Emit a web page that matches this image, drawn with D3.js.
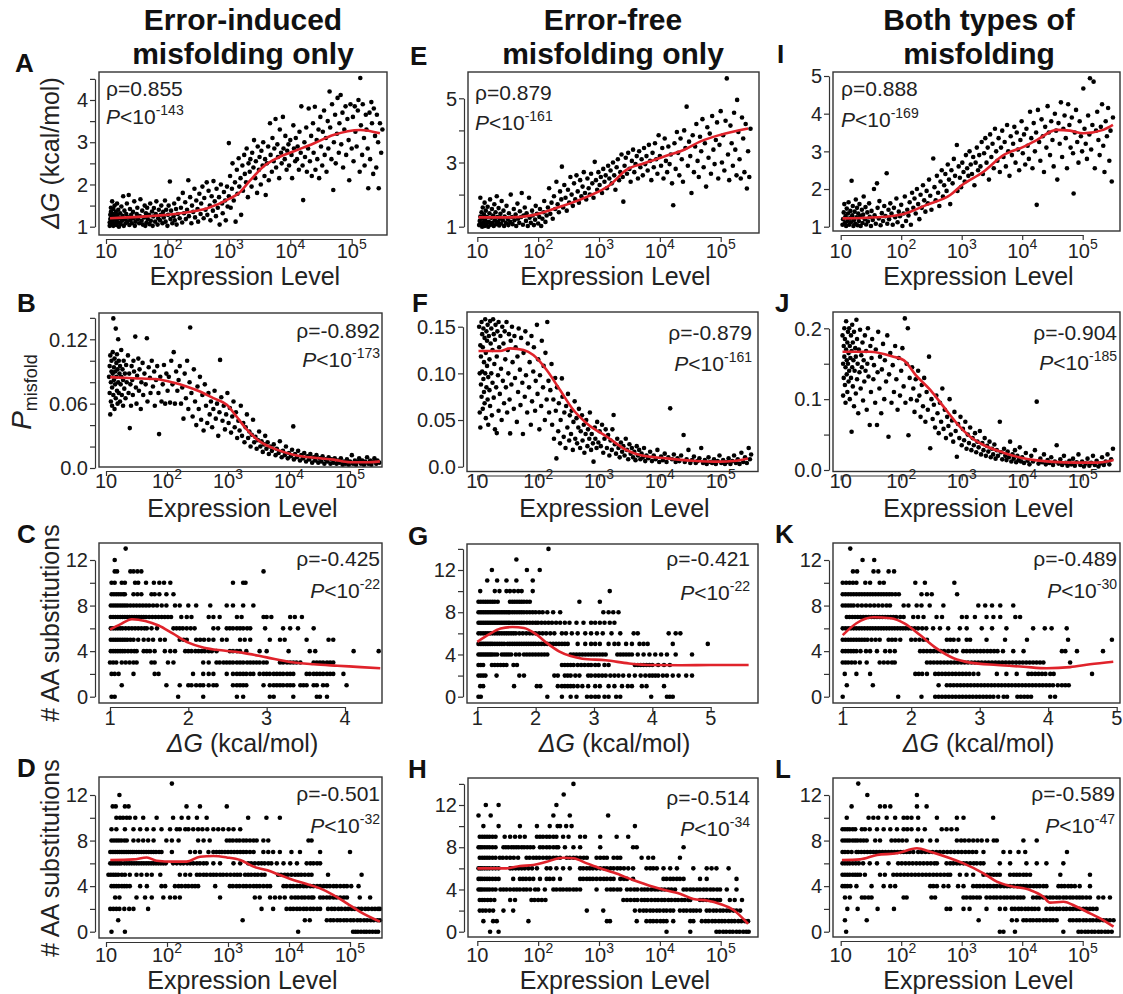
<!DOCTYPE html>
<html>
<head>
<meta charset="utf-8">
<script src="https://cdn.jsdelivr.net/npm/d3@7"></script>
<style>
  body { margin: 0; background: #fff; }
  svg { display: block; font-family: "Liberation Sans", Arial, Helvetica, sans-serif; }
</style>
</head>
<body>
<div id="chart"></div>
<script>
// ---- labels
var colTitles = [['Error-induced', 'misfolding only'], ['Error-free', 'misfolding only'], ['Both types of', 'misfolding']]
var letters = ['A', 'B', 'C', 'D', 'E', 'F', 'G', 'H', 'I', 'J', 'K', 'L']
var rhoVals = ['0.855', '-0.892', '-0.425', '-0.501', '0.879', '-0.879', '-0.421', '-0.514', '0.888', '-0.904', '-0.489', '-0.589']
var pExps = ['-143', '-173', '-22', '-32', '-161', '-161', '-22', '-34', '-169', '-185', '-30', '-47']

// ---- tick values / labels
var exprTicks = [1, 2, 3, 4, 5]            // log10 expression
var ticksA = [1, 1.5, 2, 2.5, 3, 3.5, 4, 4.5], labA = [1, 2, 3, 4]
var ticksE = [1, 2, 3, 4, 5], labE = [1, 3, 5]
var ticksI = [1, 2, 3, 4, 5], labI = [1, 2, 3, 4, 5]
var ticksB = [0, 0.02, 0.04, 0.06, 0.08, 0.1, 0.12, 0.14], labB = [[0, '0.0'], [0.06, '0.06'], [0.12, '0.12']]
var ticksF = [0, 0.05, 0.1, 0.15], labF = [[0, '0.0'], [0.05, '0.05'], [0.1, '0.10'], [0.15, '0.15']]
var ticksJ = [0, 0.05, 0.1, 0.15, 0.2], labJ = [[0, '0.0'], [0.1, '0.1'], [0.2, '0.2']]
var ticksAA12 = [0, 2, 4, 6, 8, 10, 12], ticksAA14 = [0, 2, 4, 6, 8, 10, 12, 14], labAA = [0, 4, 8, 12]
var dgTicksC = [1, 2, 3, 4], dgTicksG = [1, 2, 3, 4, 5], dgTicksK = [1, 2, 3, 4, 5]

// ---- row 1: dG vs log10 expression (x, y pairs)
var ptsA = [1.06,1.02, 1.06,1.1, 1.07,1.18, 1.07,1.28, 1.08,1.35, 1.08,1.45, 1.09,1.05, 1.09,1.22, 1.1,1.6, 1.1,1.12, 1.11,1.3, 1.12,1.02, 1.12,1.42, 1.13,1.18, 1.14,1.08, 1.14,1.5, 1.15,1.25, 1.16,1.35, 1.17,1.04, 1.17,1.15, 1.18,1.55, 1.19,1.28, 1.2,1.1, 1.2,1.4, 1.21,1.0, 1.22,1.2, 1.23,1.32, 1.24,1.06, 1.25,1.48, 1.26,1.14, 1.27,1.26, 1.28,1.72, 1.29,1.02, 1.3,1.38, 1.31,1.18, 1.32,1.08, 1.33,1.3, 1.34,1.55, 1.35,1.12, 1.36,1.22, 1.37,1.75, 1.38,1.04, 1.39,1.42, 1.4,1.16, 1.41,1.28, 1.42,1.08, 1.44,1.35, 1.45,1.2, 1.46,1.6, 1.47,1.02, 1.48,1.12, 1.5,1.3, 1.51,1.45, 1.52,1.18, 1.54,1.08, 1.55,1.25, 1.56,1.65, 1.58,1.14, 1.59,1.38, 1.6,1.05,
  1.62,1.22, 1.63,1.5, 1.64,1.02, 1.65,1.32, 1.66,1.1, 1.67,1.45, 1.68,1.18, 1.7,1.28, 1.71,1.06, 1.72,1.55, 1.73,1.14, 1.75,1.36, 1.76,1.02, 1.77,1.24, 1.78,1.44, 1.8,1.12, 1.81,1.3, 1.82,1.6, 1.84,1.05, 1.85,1.2, 1.86,1.4, 1.88,1.15, 1.89,1.28, 1.9,1.5, 1.92,1.08, 1.93,1.35, 1.94,1.22, 1.96,1.62, 1.97,1.12, 1.98,1.4, 2.0,1.02, 2.01,1.28, 2.02,1.5, 2.04,2.07, 2.05,1.18, 2.06,1.38, 2.08,1.08, 2.1,1.25, 2.11,1.55, 2.12,1.15, 2.14,1.42, 2.15,1.05, 2.17,1.3, 2.18,1.66, 2.2,1.2,
  2.22,1.45, 2.24,1.1, 2.25,1.8, 2.27,1.32, 2.29,1.58, 2.3,1.18, 2.32,1.4, 2.34,2.1, 2.35,1.25, 2.37,1.7, 2.39,1.08, 2.4,1.5, 2.42,1.35, 2.44,1.9, 2.45,1.22, 2.47,1.62, 2.49,1.42, 2.5,1.12, 2.52,1.78, 2.54,1.3, 2.55,1.55, 2.57,1.95, 2.59,1.2, 2.6,1.68, 2.62,1.4, 2.64,2.05, 2.65,1.28, 2.67,1.85, 2.69,1.5, 2.7,1.15, 2.72,1.72, 2.74,1.38, 2.75,2.08, 2.77,1.6, 2.79,1.25, 2.8,1.9, 2.82,1.45, 2.84,1.7, 2.85,1.05, 2.87,2.0, 2.89,1.55, 2.9,1.32, 2.92,1.82, 2.94,1.62, 2.95,1.15, 2.97,1.95, 2.98,1.48, 3.0,2.98, 3.0,1.72,
  3.02,2.2, 3.03,1.45, 3.05,1.9, 3.06,2.5, 3.08,1.62, 3.1,2.05, 3.11,1.12, 3.13,2.35, 3.14,1.78, 3.16,2.62, 3.17,1.95, 3.19,2.15, 3.2,1.28, 3.22,2.45, 3.23,1.85, 3.25,2.7, 3.26,2.25, 3.28,2.05, 3.29,2.85, 3.31,1.7, 3.32,2.5, 3.34,2.3, 3.35,2.6, 3.37,1.95, 3.38,2.75, 3.4,2.4, 3.41,3.05, 3.43,2.15, 3.44,2.55, 3.46,1.8, 3.47,2.9, 3.49,2.35, 3.5,2.65, 3.52,2.0, 3.53,2.8, 3.55,2.45, 3.56,3.0, 3.58,2.2, 3.59,2.6, 3.6,1.75,
  3.62,2.5, 3.64,2.9, 3.65,2.1, 3.67,3.45, 3.68,2.7, 3.7,2.3, 3.71,3.1, 3.73,2.55, 3.74,2.85, 3.76,3.55, 3.77,2.4, 3.79,2.95, 3.8,2.65, 3.82,2.15, 3.83,3.3, 3.85,2.75, 3.86,2.5, 3.88,3.6, 3.89,2.85, 3.91,2.6, 3.92,3.15, 3.94,2.35, 3.95,2.8, 3.97,2.95, 3.98,2.45, 4.0,3.05, 4.02,2.7, 4.03,2.15, 4.05,3.4, 4.06,2.85, 4.08,2.55, 4.09,3.1, 4.11,2.6, 4.12,2.9, 4.14,2.35, 4.15,3.25, 4.17,2.75, 4.18,3.85, 4.2,2.45, 4.21,1.63, 4.23,3.0, 4.24,2.65, 4.26,3.35, 4.27,2.3, 4.29,2.85, 4.3,3.8,
  4.32,2.55, 4.34,3.15, 4.35,2.2, 4.37,3.45, 4.38,2.75, 4.4,3.84, 4.41,2.35, 4.43,3.05, 4.44,2.6, 4.46,3.3, 4.47,2.15, 4.49,3.6, 4.5,2.9, 4.52,2.45, 4.53,3.25, 4.55,3.75, 4.56,2.7, 4.58,3.1, 4.59,2.3, 4.61,3.5, 4.62,2.85, 4.64,4.2, 4.65,3.35, 4.67,2.6, 4.68,3.9, 4.7,1.87, 4.71,3.0, 4.73,3.65, 4.74,2.5, 4.76,3.2, 4.77,4.05, 4.79,2.75, 4.8,3.45, 4.82,4.12, 4.83,2.95, 4.85,3.7, 4.86,2.4, 4.88,3.3, 4.9,3.85, 4.91,2.7, 4.93,3.55, 4.95,3.05, 4.96,2.1, 4.98,3.9, 5.0,2.85,
  5.02,3.6, 5.03,2.55, 5.05,3.85, 5.06,3.25, 5.08,2.9, 5.1,3.75, 5.11,4.0, 5.13,2.3, 5.14,4.52, 5.15,3.4, 5.17,2.7, 5.18,3.9, 5.2,3.1, 5.21,2.45, 5.23,3.65, 5.24,3.3, 5.26,2.85, 5.27,1.91, 5.29,3.7, 5.3,2.6, 5.32,3.95, 5.33,3.45, 5.35,2.25, 5.36,3.8, 5.38,3.15, 5.4,2.4, 5.41,3.65, 5.43,3.0, 5.44,1.91, 5.46,3.45, 5.48,2.75, 5.5,3.3]
var fitA = [1.065,1.2, 1.72,1.25, 2.21,1.32, 2.64,1.43, 3.02,1.67, 3.16,1.79, 3.35,2.1, 3.56,2.42, 3.78,2.62, 4.05,2.78, 4.38,2.97, 4.7,3.17, 5.14,3.29, 5.46,3.21]

var ptsE = [1.03,1.05, 1.04,1.18, 1.05,1.32, 1.05,1.9, 1.06,1.1, 1.07,1.45, 1.08,1.0, 1.08,1.25, 1.09,1.6, 1.1,1.12, 1.11,1.38, 1.12,1.02, 1.12,1.75, 1.13,1.2, 1.14,1.5, 1.15,1.08, 1.16,1.3, 1.17,1.62, 1.18,1.0, 1.19,1.15, 1.2,1.42, 1.21,1.85, 1.22,1.06, 1.23,1.28, 1.24,1.55, 1.25,1.12, 1.26,1.35, 1.27,1.02, 1.28,1.7, 1.29,1.2, 1.3,1.45, 1.31,1.08, 1.32,1.95, 1.33,1.3, 1.34,1.15, 1.35,1.58, 1.36,1.04, 1.37,1.25, 1.38,1.4, 1.39,1.1, 1.4,1.8, 1.42,1.2, 1.43,1.5, 1.44,1.02, 1.45,1.32, 1.47,1.12, 1.48,1.65, 1.5,1.24, 1.51,1.05, 1.52,1.42, 1.54,1.15, 1.55,2.0, 1.57,1.3, 1.58,1.08, 1.6,1.55, 1.61,1.2, 1.63,1.38, 1.64,1.02, 1.66,1.72, 1.67,1.25, 1.69,1.12, 1.7,1.48, 1.72,1.3, 1.73,2.05, 1.75,1.06, 1.76,1.35, 1.78,1.6, 1.8,1.18, 1.81,1.42, 1.83,1.02, 1.85,1.9, 1.86,1.28, 1.88,1.12, 1.9,1.5, 1.91,1.35, 1.93,1.05, 1.95,1.22, 1.96,1.65, 1.98,1.4, 2.0,1.1, 2.02,1.3, 2.03,1.55, 2.05,1.02, 2.07,1.25, 2.09,1.45, 2.1,1.8, 2.12,1.15, 2.14,1.35,
  2.16,1.6, 2.18,2.2, 2.2,1.4, 2.22,1.75, 2.24,1.25, 2.26,1.95, 2.28,1.55, 2.3,2.4, 2.32,1.7, 2.34,1.45, 2.36,2.1, 2.38,1.85, 2.39,2.87, 2.41,1.6, 2.43,2.3, 2.45,1.9, 2.47,1.5, 2.49,2.15, 2.51,1.75, 2.53,2.55, 2.55,2.0, 2.57,1.65, 2.59,2.35, 2.61,1.85, 2.63,2.6, 2.65,2.1, 2.67,1.75, 2.69,2.45, 2.71,1.95, 2.73,2.25, 2.75,2.7, 2.77,2.05, 2.79,1.85, 2.81,2.5, 2.83,2.2, 2.85,2.0, 2.87,2.65, 2.89,2.35, 2.91,1.9, 2.93,3.02, 2.95,2.45, 2.97,2.15, 2.99,2.7, 3.01,2.3, 3.03,2.55, 3.05,2.05, 3.07,2.8, 3.09,2.4, 3.11,2.6, 3.13,2.2, 3.15,2.9, 3.17,2.5, 3.19,2.75,
  3.21,2.35, 3.23,3.0, 3.25,2.6, 3.27,2.15, 3.29,2.85, 3.31,3.1, 3.33,2.45, 3.35,2.7, 3.37,3.25, 3.39,2.55, 3.4,1.78, 3.42,2.9, 3.44,3.15, 3.46,2.65, 3.48,3.3, 3.5,2.8, 3.52,2.4, 3.54,3.05, 3.56,3.4, 3.58,2.7, 3.6,2.95, 3.62,3.2, 3.64,2.5, 3.66,3.35, 3.68,2.85, 3.7,3.1, 3.72,2.6, 3.74,3.45, 3.76,2.95, 3.78,3.2, 3.8,2.75, 3.82,3.55, 3.84,3.05, 3.86,2.45, 3.88,3.3, 3.9,2.85, 3.92,3.6, 3.94,3.1, 3.96,2.65, 3.98,3.85, 4.0,3.2, 4.02,2.9, 4.04,3.45, 4.06,2.5, 4.08,3.75, 4.1,3.05, 4.12,2.7, 4.14,3.5, 4.16,2.95, 4.18,3.25, 4.2,2.35, 4.22,1.67,
  4.24,3.6, 4.26,2.8, 4.28,3.95, 4.3,3.3, 4.32,2.6, 4.34,3.75, 4.36,3.1, 4.38,2.4, 4.4,4.0, 4.42,3.45, 4.44,4.74, 4.46,2.9, 4.48,3.65, 4.5,3.2, 4.52,2.05, 4.54,3.85, 4.56,2.7, 4.58,3.5, 4.6,4.2, 4.62,3.05, 4.64,2.55, 4.66,3.8, 4.68,3.35, 4.7,4.35, 4.72,2.85, 4.74,3.6, 4.76,2.25, 4.78,4.1, 4.8,3.15, 4.82,3.9, 4.84,2.65, 4.86,4.45, 4.88,3.4, 4.9,2.95, 4.92,3.7, 4.94,4.25, 4.96,2.5, 4.98,3.55, 5.0,4.6, 5.02,3.0, 5.04,3.85, 5.06,2.75, 5.08,4.3, 5.1,5.62, 5.12,3.25, 5.14,2.45, 5.16,4.15, 5.18,3.6, 5.2,2.9, 5.22,4.55, 5.24,3.4, 5.26,2.6, 5.27,4.95, 5.29,3.95, 5.31,3.1, 5.33,2.5, 5.35,4.4, 5.37,3.75, 5.39,2.7, 5.41,4.2, 5.43,2.19, 5.45,3.35, 5.47,2.55, 5.49,4.05]
var fitE = [1.02,1.29, 1.54,1.29, 1.92,1.36, 2.36,1.62, 2.8,1.93, 3.18,2.3, 3.45,2.77, 3.73,2.97, 4.06,3.18, 4.39,3.39, 4.66,3.65, 4.99,3.86, 5.45,4.06]

var ptsI = [1.03,1.05, 1.04,1.2, 1.05,1.38, 1.06,1.6, 1.07,1.1, 1.08,1.28, 1.09,1.02, 1.1,1.48, 1.11,1.15, 1.12,1.35, 1.13,1.65, 1.14,1.05, 1.15,1.22, 1.16,1.42, 1.17,1.12, 1.18,2.22, 1.19,1.3, 1.2,1.55, 1.21,1.02, 1.22,1.18, 1.23,1.4, 1.24,1.08, 1.25,1.72, 1.26,1.25, 1.27,1.5, 1.28,1.04, 1.29,1.35, 1.3,1.15, 1.31,1.6, 1.32,1.28, 1.33,1.02, 1.35,1.45, 1.36,1.1, 1.37,1.32, 1.38,1.8, 1.4,1.2, 1.41,1.52, 1.42,1.06, 1.44,1.38, 1.45,1.14, 1.47,1.62, 1.48,1.26, 1.5,1.02, 1.51,1.42, 1.53,1.18, 1.55,2.0, 1.56,1.3, 1.58,1.08, 1.6,2.15, 1.61,1.5, 1.63,1.22, 1.64,1.68, 1.66,1.04, 1.68,1.36, 1.7,1.15, 1.72,1.55, 1.74,1.28, 1.76,2.42, 1.77,1.08, 1.79,1.45, 1.8,1.2, 1.82,1.62, 1.84,1.35, 1.86,1.05, 1.88,1.5, 1.9,1.25, 1.92,1.75, 1.94,1.12, 1.96,1.4, 1.98,1.28, 2.0,1.58, 2.02,1.02, 2.04,1.35, 2.06,1.8, 2.08,1.15, 2.1,1.45, 2.12,1.3, 2.14,1.65, 2.16,1.05, 2.18,1.9,
  2.2,1.5, 2.22,1.75, 2.24,1.35, 2.26,2.0, 2.28,1.6, 2.3,1.2, 2.32,1.85, 2.34,1.5, 2.36,2.1, 2.38,1.7, 2.4,1.4, 2.42,1.95, 2.44,1.62, 2.46,2.25, 2.48,1.82, 2.5,1.45, 2.53,2.81, 2.55,2.05, 2.57,1.7, 2.59,2.35, 2.61,1.9, 2.63,1.55, 2.65,2.2, 2.67,2.5, 2.69,1.8, 2.71,2.1, 2.73,2.4, 2.75,1.95, 2.77,2.65, 2.79,2.25, 2.81,1.6, 2.83,2.5, 2.85,2.15, 2.87,2.8, 2.89,2.35, 2.92,3.17, 2.93,1.95, 2.95,2.6, 2.97,2.3, 2.99,2.05, 3.01,2.7, 3.03,2.45, 3.05,2.2, 3.07,2.9, 3.09,2.55, 3.11,2.35, 3.13,3.0, 3.15,2.65, 3.17,2.4, 3.19,2.85, 3.21,2.1, 3.23,2.7, 3.25,3.1, 3.27,2.5, 3.29,2.9,
  3.31,2.6, 3.33,3.25, 3.35,2.4, 3.37,2.95, 3.39,3.35, 3.41,2.7, 3.43,3.1, 3.45,2.25, 3.47,3.45, 3.49,2.85, 3.51,3.2, 3.53,2.55, 3.55,3.6, 3.57,3.0, 3.59,2.75, 3.61,3.35, 3.63,2.45, 3.65,3.1, 3.67,3.55, 3.69,2.85, 3.71,3.25, 3.73,2.6, 3.75,3.7, 3.77,3.0, 3.79,2.35, 3.81,3.4, 3.83,2.9, 3.85,3.2, 3.87,3.65, 3.89,2.7, 3.91,3.5, 3.93,3.05, 3.95,2.5, 3.97,3.3, 3.99,3.8, 4.01,2.95, 4.03,3.45, 4.05,2.65, 4.07,3.6, 4.09,3.15, 4.11,2.8, 4.13,4.05, 4.15,3.35, 4.17,2.55, 4.19,3.75, 4.21,3.0, 4.23,3.5, 4.24,1.58, 4.26,4.1, 4.28,3.25, 4.3,2.75, 4.32,3.85, 4.34,3.4, 4.36,2.45, 4.38,3.65, 4.4,3.1,
  4.42,4.2, 4.44,3.5, 4.46,2.9, 4.48,3.8, 4.5,3.3, 4.52,2.6, 4.54,4.0, 4.56,3.55, 4.58,2.25, 4.6,3.75, 4.62,3.2, 4.64,4.3, 4.66,2.85, 4.68,3.6, 4.7,3.95, 4.72,3.35, 4.74,2.55, 4.76,4.25, 4.78,3.7, 4.8,3.1, 4.82,3.9, 4.84,2.95, 4.85,1.88, 4.87,3.5, 4.89,4.1, 4.91,3.25, 4.93,2.7, 4.95,3.8, 4.97,3.4, 4.99,3.0, 5.01,4.67, 5.03,3.6, 5.05,3.2, 5.07,2.8, 5.09,3.95, 5.11,3.45, 5.12,4.94, 5.14,3.05, 5.16,3.7, 5.18,4.85, 5.2,2.55, 5.22,3.55, 5.24,4.05, 5.26,3.3, 5.28,2.9, 5.3,3.65, 5.32,4.25, 5.34,3.15, 5.36,2.45, 5.38,3.8, 5.4,3.4, 5.42,4.15, 5.44,2.75, 5.46,3.55, 5.48,2.2, 5.5,3.9]
var fitI = [1.03,1.22, 1.6,1.25, 2.04,1.34, 2.42,1.58, 2.81,1.84, 3.0,2.1, 3.36,2.46, 3.69,2.9, 4.02,3.12, 4.24,3.3, 4.57,3.57, 4.79,3.55, 5.01,3.48, 5.34,3.57, 5.5,3.7]

// ---- row 2: P misfold vs log10 expression
var ptsB = [1.05,0.085, 1.06,0.095, 1.06,0.07, 1.07,0.05, 1.07,0.105, 1.08,0.08, 1.08,0.062, 1.09,0.09, 1.09,0.1, 1.1,0.075, 1.1,0.058, 1.11,0.088, 1.11,0.108, 1.12,0.1395, 1.12,0.068, 1.13,0.094, 1.13,0.082, 1.14,0.102, 1.14,0.055, 1.15,0.078, 1.15,0.09, 1.16,0.13, 1.16,0.065, 1.17,0.098, 1.17,0.085, 1.18,0.072, 1.18,0.106, 1.19,0.06, 1.19,0.092, 1.2,0.08, 1.2,0.12, 1.21,0.07, 1.21,0.1, 1.22,0.088, 1.23,0.062, 1.23,0.095, 1.24,0.078, 1.25,0.11, 1.25,0.085, 1.26,0.068, 1.27,0.092, 1.28,0.058, 1.28,0.082, 1.29,0.1, 1.3,0.074, 1.31,0.088, 1.32,0.065, 1.33,0.096, 1.34,0.08,
  1.36,0.105, 1.37,0.07, 1.38,0.088, 1.39,0.0372, 1.4,0.078, 1.41,0.058, 1.42,0.095, 1.43,0.082, 1.44,0.068, 1.45,0.1, 1.46,0.09, 1.48,0.1225, 1.49,0.075, 1.5,0.06, 1.51,0.086, 1.53,0.102, 1.54,0.072, 1.55,0.092, 1.57,0.055, 1.58,0.08, 1.6,0.098, 1.61,0.068, 1.63,0.088, 1.65,0.078, 1.67,0.121, 1.68,0.062, 1.7,0.094, 1.72,0.084, 1.73,0.07, 1.75,0.1, 1.77,0.076, 1.79,0.09, 1.8,0.058, 1.82,0.082, 1.84,0.095, 1.86,0.07, 1.87,0.0316, 1.89,0.085, 1.91,0.062, 1.93,0.078, 1.95,0.096, 1.97,0.06, 1.99,0.088, 2.01,0.072, 2.03,0.085, 2.05,0.061, 2.07,0.1, 2.09,0.078, 2.11,0.108, 2.13,0.06, 2.15,0.09, 2.17,0.072, 2.19,0.082,
  2.21,0.095, 2.23,0.06, 2.25,0.075, 2.27,0.046, 2.29,0.088, 2.31,0.065, 2.33,0.1, 2.35,0.055, 2.37,0.08, 2.38,0.131, 2.4,0.07, 2.42,0.048, 2.44,0.092, 2.46,0.062, 2.48,0.04, 2.5,0.076, 2.52,0.055, 2.54,0.085, 2.56,0.045, 2.58,0.068, 2.6,0.035, 2.62,0.078, 2.64,0.058, 2.66,0.042, 2.68,0.07, 2.7,0.05, 2.72,0.062, 2.74,0.038, 2.76,0.055, 2.78,0.072, 2.8,0.046, 2.82,0.06, 2.84,0.03, 2.86,0.052, 2.87,0.1008, 2.89,0.066, 2.91,0.044, 2.93,0.058, 2.95,0.036, 2.97,0.05, 2.99,0.07,
  3.01,0.042, 3.03,0.056, 3.05,0.033, 3.07,0.048, 3.09,0.062, 3.11,0.038, 3.13,0.052, 3.15,0.028, 3.17,0.044, 3.19,0.035, 3.21,0.058, 3.23,0.03, 3.25,0.042, 3.27,0.024, 3.29,0.038, 3.31,0.05, 3.33,0.028, 3.35,0.034, 3.37,0.02, 3.39,0.031, 3.41,0.045, 3.43,0.024, 3.45,0.029, 3.47,0.018, 3.49,0.026, 3.51,0.034, 3.53,0.02, 3.55,0.025, 3.57,0.015, 3.59,0.022, 3.61,0.03, 3.63,0.018, 3.65,0.024, 3.67,0.013, 3.69,0.02,
  3.72,0.016, 3.75,0.022, 3.78,0.012, 3.8,0.018, 3.83,0.014, 3.85,0.025, 3.88,0.01, 3.9,0.016, 3.93,0.012, 3.95,0.02, 3.98,0.009, 4.0,0.014, 4.03,0.011, 4.05,0.017, 4.07,0.0388, 4.08,0.008, 4.1,0.013, 4.13,0.01, 4.15,0.016, 4.18,0.007, 4.2,0.012, 4.23,0.009, 4.25,0.014, 4.28,0.006, 4.3,0.011, 4.33,0.008, 4.35,0.013, 4.38,0.005, 4.4,0.01, 4.43,0.007, 4.45,0.012, 4.48,0.005, 4.5,0.009, 4.53,0.006, 4.55,0.011, 4.58,0.004, 4.6,0.008, 4.63,0.006, 4.65,0.01, 4.68,0.004, 4.7,0.008, 4.73,0.005, 4.75,0.009, 4.78,0.004, 4.8,0.007, 4.83,0.005, 4.85,0.009, 4.88,0.003, 4.9,0.006, 4.93,0.004, 4.95,0.008, 4.98,0.003, 5.0,0.006, 5.03,0.012, 5.05,0.004, 5.08,0.007, 5.1,0.003, 5.13,0.006, 5.15,0.009, 5.18,0.004, 5.2,0.007, 5.23,0.003, 5.25,0.006, 5.28,0.01, 5.3,0.004, 5.33,0.007, 5.35,0.003, 5.38,0.006, 5.4,0.009, 5.43,0.004, 5.45,0.007, 5.48,0.005]
var fitB = [1.07,0.0847, 1.45,0.0837, 1.83,0.0828, 2.1,0.0797, 2.32,0.076, 2.54,0.0713, 2.76,0.0651, 2.98,0.0589, 3.14,0.048, 3.31,0.0357, 3.52,0.0248, 3.8,0.0171, 4.07,0.0124, 4.45,0.0093, 4.73,0.0078, 5.0,0.0053, 5.27,0.0053, 5.49,0.0062]

var ptsF = [1.03,0.15, 1.04,0.1, 1.04,0.058, 1.05,0.042, 1.05,0.13, 1.06,0.118, 1.06,0.088, 1.07,0.155, 1.07,0.075, 1.08,0.142, 1.08,0.102, 1.09,0.062, 1.09,0.128, 1.1,0.148, 1.1,0.094, 1.11,0.08, 1.11,0.112, 1.12,0.138, 1.12,0.068, 1.13,0.158, 1.13,0.1, 1.14,0.052, 1.14,0.122, 1.15,0.145, 1.15,0.085, 1.16,0.108, 1.16,0.135, 1.17,0.072, 1.17,0.152, 1.18,0.096, 1.18,0.045, 1.19,0.14, 1.2,0.115, 1.2,0.082, 1.21,0.156, 1.21,0.065, 1.22,0.132, 1.23,0.1, 1.23,0.148, 1.24,0.055, 1.25,0.125, 1.25,0.09, 1.26,0.158, 1.27,0.074, 1.27,0.142, 1.28,0.11, 1.29,0.04, 1.29,0.136, 1.3,0.152, 1.31,0.085, 1.32,0.036, 1.32,0.118, 1.33,0.145, 1.34,0.098, 1.35,0.06, 1.35,0.155, 1.36,0.128, 1.37,0.078, 1.38,0.14, 1.39,0.105, 1.4,0.05, 1.41,0.15, 1.42,0.092, 1.43,0.132, 1.44,0.068, 1.45,0.145, 1.46,0.115, 1.47,0.085, 1.48,0.155, 1.49,0.058, 1.5,0.125, 1.51,0.1, 1.52,0.142, 1.53,0.072, 1.54,0.0357, 1.55,0.135, 1.56,0.088, 1.57,0.15, 1.58,0.112, 1.6,0.062, 1.61,0.14, 1.62,0.095, 1.63,0.128, 1.65,0.048, 1.66,0.118, 1.67,0.08, 1.68,0.148, 1.7,0.104, 1.71,0.066, 1.72,0.138, 1.74,0.09, 1.75,0.035, 1.76,0.122, 1.78,0.075, 1.79,0.145, 1.8,0.098, 1.82,0.058, 1.83,0.132, 1.85,0.085, 1.86,0.112, 1.88,0.045, 1.89,0.14, 1.9,0.07, 1.92,0.102, 1.93,0.128, 1.95,0.06, 1.96,0.092, 1.98,0.152, 1.99,0.078, 2.0,0.115, 2.02,0.04, 2.03,0.098, 2.05,0.065, 2.06,0.135, 2.08,0.085, 2.09,0.108, 2.11,0.05, 2.12,0.122, 2.14,0.072, 2.15,0.155, 2.17,0.092, 2.18,0.058, 2.2,0.082,
  2.22,0.11, 2.23,0.045, 2.25,0.072, 2.26,0.03, 2.28,0.095, 2.29,0.06, 2.3,0.0089, 2.31,0.085, 2.33,0.038, 2.34,0.068, 2.36,0.025, 2.37,0.05, 2.39,0.0946, 2.4,0.075, 2.42,0.032, 2.43,0.058, 2.45,0.02, 2.46,0.065, 2.48,0.042, 2.49,0.078, 2.51,0.028, 2.52,0.055, 2.54,0.035, 2.55,0.06, 2.57,0.018, 2.58,0.048, 2.6,0.07, 2.61,0.03, 2.63,0.052, 2.64,0.025, 2.66,0.042, 2.67,0.062, 2.69,0.02, 2.7,0.038, 2.72,0.055, 2.73,0.028, 2.75,0.045, 2.76,0.015, 2.78,0.035, 2.79,0.05, 2.81,0.022, 2.82,0.04, 2.84,0.03, 2.85,0.058, 2.87,0.018, 2.88,0.035, 2.9,0.025, 2.91,0.0054, 2.93,0.042, 2.94,0.03, 2.96,0.02, 2.97,0.048, 2.99,0.026,
  3.01,0.038, 3.03,0.022, 3.05,0.045, 3.07,0.015, 3.09,0.03, 3.11,0.04, 3.13,0.02, 3.15,0.034, 3.17,0.012, 3.19,0.028, 3.21,0.018, 3.22,0.04, 3.24,0.0554, 3.26,0.024, 3.28,0.014, 3.3,0.03, 3.32,0.02, 3.34,0.01, 3.36,0.026, 3.38,0.016, 3.4,0.022, 3.42,0.012, 3.44,0.03, 3.46,0.018, 3.48,0.008, 3.5,0.024, 3.52,0.014, 3.54,0.02, 3.56,0.01, 3.58,0.016, 3.6,0.007, 3.62,0.022, 3.64,0.012, 3.66,0.018, 3.68,0.008, 3.7,0.014, 3.72,0.01, 3.74,0.02, 3.76,0.006, 3.78,0.012,
  3.81,0.009, 3.84,0.016, 3.87,0.006, 3.9,0.012, 3.93,0.008, 3.96,0.018, 3.99,0.005, 4.02,0.011, 4.05,0.007, 4.08,0.014, 4.11,0.005, 4.14,0.01, 4.17,0.0625, 4.2,0.008, 4.23,0.013, 4.26,0.005, 4.29,0.009, 4.32,0.006, 4.35,0.012, 4.39,0.034, 4.41,0.005, 4.44,0.008, 4.47,0.018, 4.5,0.004, 4.53,0.007, 4.56,0.011, 4.59,0.004, 4.62,0.006, 4.65,0.009, 4.68,0.02, 4.71,0.004, 4.74,0.007, 4.77,0.003, 4.8,0.01, 4.83,0.005, 4.86,0.004, 4.89,0.008, 4.92,0.003, 4.95,0.006, 4.98,0.012, 5.01,0.004, 5.04,0.007, 5.07,0.003, 5.1,0.005, 5.13,0.009, 5.16,0.003, 5.19,0.006, 5.22,0.012, 5.25,0.004, 5.28,0.008, 5.31,0.003, 5.34,0.015, 5.37,0.005, 5.4,0.01, 5.43,0.004, 5.46,0.02, 5.48,0.008, 5.5,0.013]
var fitF = [1.02,0.124, 1.37,0.124, 1.54,0.1268, 1.76,0.125, 1.92,0.1196, 2.14,0.1036, 2.36,0.0821, 2.58,0.0607, 2.8,0.0464, 3.13,0.0321, 3.45,0.0179, 3.67,0.0125, 4.11,0.0089, 4.55,0.0064, 4.99,0.0054, 5.21,0.0061, 5.45,0.0089]

var ptsJ = [1.03,0.19, 1.04,0.15, 1.04,0.105, 1.05,0.175, 1.05,0.13, 1.06,0.2, 1.06,0.16, 1.07,0.12, 1.07,0.185, 1.08,0.145, 1.08,0.095, 1.09,0.21, 1.09,0.17, 1.1,0.135, 1.1,0.155, 1.11,0.18, 1.11,0.11, 1.12,0.195, 1.12,0.15, 1.13,0.165, 1.13,0.125, 1.14,0.2, 1.14,0.14, 1.15,0.175, 1.15,0.1, 1.16,0.158, 1.17,0.19, 1.17,0.13, 1.18,0.054, 1.18,0.168, 1.19,0.145, 1.19,0.205, 1.2,0.118, 1.2,0.18, 1.21,0.155, 1.22,0.09, 1.22,0.195, 1.23,0.14, 1.24,0.172, 1.25,0.108, 1.25,0.16, 1.26,0.212, 1.27,0.128, 1.27,0.185, 1.28,0.15, 1.29,0.08, 1.3,0.17, 1.31,0.138, 1.32,0.198, 1.33,0.115, 1.34,0.162, 1.35,0.145, 1.36,0.18, 1.37,0.098, 1.38,0.155, 1.39,0.125, 1.4,0.19, 1.41,0.14, 1.42,0.168, 1.43,0.085, 1.44,0.15, 1.45,0.2, 1.46,0.132, 1.48,0.0635, 1.49,0.175, 1.5,0.11, 1.51,0.158, 1.52,0.185, 1.54,0.128, 1.55,0.148, 1.57,0.095, 1.58,0.17, 1.6,0.0635, 1.61,0.138, 1.62,0.195, 1.64,0.115, 1.65,0.16,
  1.67,0.08, 1.68,0.142, 1.7,0.178, 1.72,0.1, 1.73,0.155, 1.75,0.125, 1.77,0.19, 1.79,0.047, 1.8,0.135, 1.82,0.165, 1.84,0.095, 1.86,0.148, 1.88,0.11, 1.9,0.175, 1.92,0.128, 1.94,0.085, 1.96,0.158, 1.98,0.105, 2.0,0.14, 2.02,0.172, 2.04,0.118, 2.06,0.214, 2.07,0.095, 2.09,0.15, 2.11,0.2, 2.12,0.049, 2.14,0.13, 2.16,0.1, 2.18,0.145, 2.2,0.115, 2.22,0.082, 2.24,0.128, 2.26,0.098, 2.28,0.14,
  2.3,0.105, 2.32,0.075, 2.34,0.12, 2.36,0.09, 2.38,0.13, 2.4,0.068, 2.42,0.11, 2.44,0.085, 2.46,0.16, 2.48,0.0306, 2.5,0.1, 2.52,0.072, 2.54,0.092, 2.56,0.06, 2.58,0.105, 2.6,0.08, 2.62,0.052, 2.64,0.095, 2.66,0.068, 2.68,0.115, 2.7,0.058, 2.72,0.085, 2.74,0.045, 2.76,0.075, 2.78,0.062, 2.8,0.1, 2.82,0.05, 2.84,0.07, 2.86,0.04, 2.88,0.082, 2.9,0.055, 2.92,0.0188, 2.94,0.065, 2.96,0.045, 2.98,0.075, 3.0,0.035, 3.02,0.058, 3.04,0.042, 3.06,0.068, 3.08,0.03, 3.1,0.05, 3.12,0.038, 3.14,0.06, 3.16,0.028, 3.18,0.045,
  3.2,0.035, 3.22,0.052, 3.24,0.025, 3.26,0.04, 3.28,0.032, 3.3,0.055, 3.32,0.022, 3.34,0.038, 3.36,0.028, 3.38,0.045, 3.4,0.02, 3.42,0.034, 3.44,0.026, 3.46,0.04, 3.48,0.018, 3.5,0.03, 3.52,0.022, 3.54,0.036, 3.56,0.016, 3.58,0.028, 3.6,0.02, 3.63,0.068, 3.65,0.025, 3.67,0.015, 3.7,0.03, 3.72,0.02, 3.74,0.014, 3.76,0.026, 3.78,0.018, 3.8,0.04, 3.82,0.012, 3.84,0.022, 3.86,0.016, 3.88,0.028, 3.9,0.011, 3.92,0.02, 3.94,0.014, 3.96,0.032, 3.98,0.012,
  4.0,0.018, 4.03,0.01, 4.06,0.024, 4.09,0.013, 4.12,0.008, 4.15,0.02, 4.18,0.012, 4.21,0.028, 4.24,0.0965, 4.27,0.009, 4.3,0.016, 4.33,0.011, 4.36,0.022, 4.39,0.008, 4.42,0.014, 4.45,0.01, 4.48,0.018, 4.51,0.007, 4.54,0.012, 4.57,0.035, 4.6,0.009, 4.63,0.015, 4.66,0.007, 4.69,0.02, 4.72,0.01, 4.75,0.006, 4.78,0.013, 4.81,0.008, 4.84,0.016, 4.87,0.006, 4.9,0.011, 4.93,0.022, 4.96,0.007, 4.99,0.012, 5.02,0.005, 5.05,0.009, 5.08,0.016, 5.11,0.006, 5.14,0.01, 5.17,0.02, 5.2,0.007, 5.23,0.013, 5.26,0.005, 5.29,0.009, 5.32,0.018, 5.35,0.007, 5.38,0.012, 5.41,0.022, 5.44,0.008, 5.47,0.015, 5.5,0.03]
var fitJ = [1.03,0.167, 1.48,0.167, 1.87,0.16, 2.04,0.155, 2.26,0.132, 2.48,0.113, 2.7,0.0894, 2.92,0.0659, 3.14,0.047, 3.36,0.0353, 3.69,0.0245, 4.02,0.0165, 4.46,0.0118, 4.9,0.0104, 5.23,0.0104, 5.51,0.0141]

// ---- row 3: # AA substitutions (index = count) vs dG, x values per count
var levC = [
  [1.02,1.06,1.87,2.19,2.62,2.7,3.04,3.09,3.34,3.64,3.68,3.77],
  [1.15,1.72,1.89,2.0,2.04,2.1,2.15,2.19,2.26,2.32,2.36,2.57,2.62,2.66,2.7,2.74,2.96,3.04,3.09,3.13,3.17,3.21,3.26,3.3,3.34,3.43,3.47,3.51,3.6,3.64,3.72,3.77,4.02],
  [1.02,1.06,1.11,1.3,1.57,1.62,2.06,2.19,2.26,2.32,2.49,2.57,2.62,2.66,2.7,2.74,2.79,2.83,2.91,2.96,3.0,3.04,3.09,3.13,3.17,3.21,3.26,3.3,3.34,3.51,3.55,3.6,3.64,3.68,3.72,3.77,3.81,3.85,3.98],
  [1.0,1.04,1.08,1.15,1.2,1.25,1.3,1.34,1.53,1.57,1.74,1.81,2.19,2.26,2.36,2.4,2.45,2.49,2.53,2.57,2.62,2.66,2.7,2.75,2.79,2.83,2.87,2.91,2.96,3.0,3.17,3.21,3.26,3.3,3.34,3.38,3.43,3.6,3.64,3.68,3.72,3.77,3.81,3.85],
  [1.01,1.04,1.07,1.1,1.13,1.16,1.19,1.23,1.27,1.31,1.34,1.43,1.47,1.51,1.57,1.7,1.77,1.83,1.96,2.0,2.04,2.09,2.13,2.17,2.21,2.26,2.3,2.36,2.53,2.57,2.62,2.66,2.74,2.91,3.0,3.28,3.55,3.62,4.11,4.43],
  [1.01,1.04,1.07,1.1,1.13,1.16,1.19,1.22,1.26,1.3,1.36,1.43,1.49,1.55,1.64,1.7,1.89,1.94,1.98,2.1,2.15,2.2,2.26,2.32,2.43,2.49,2.66,2.72,2.79,3.04,3.17,3.23,3.51,3.79,3.85],
  [1.01,1.04,1.07,1.1,1.13,1.16,1.2,1.24,1.28,1.32,1.36,1.4,1.44,1.47,1.53,1.6,1.81,1.85,1.89,1.93,1.98,2.03,2.08,2.32,2.38,2.49,2.53,2.57,2.62,2.66,2.7,2.75,2.79,2.98,3.21,3.3,3.4,3.6],
  [1.01,1.04,1.07,1.1,1.13,1.16,1.19,1.22,1.25,1.28,1.31,1.34,1.37,1.4,1.43,1.46,1.5,1.54,1.58,1.62,1.66,1.7,1.74,1.78,1.91,1.98,2.04,2.26,2.32,2.4,2.62,2.68,2.96,3.0,3.06,3.3,3.36,3.45],
  [1.01,1.04,1.07,1.1,1.13,1.16,1.19,1.22,1.26,1.3,1.34,1.38,1.42,1.46,1.5,1.55,1.6,1.66,1.72,1.83,1.89,2.0,2.1,2.28,2.49,2.57,2.7,2.83],
  [1.02,1.05,1.08,1.11,1.14,1.17,1.19,1.3,1.35,1.4,1.53,1.57,1.63,1.72,1.81],
  [1.02,1.06,1.15,1.19,1.32,1.36,1.46,1.56,1.63,1.69,1.77,2.57,2.7,2.73],
  [1.06,1.09,1.26,1.3,1.35,1.4,2.96],
  [1.06],
  [1.2]]
var fitC = [1.0,5.9, 1.13,6.35, 1.28,6.8, 1.45,6.65, 1.62,6.25, 1.8,5.55, 2.0,4.75, 2.2,4.3, 2.45,4.05, 2.7,3.85, 3.0,3.45, 3.3,3.05, 3.6,2.85, 3.9,2.72, 4.2,2.6, 4.45,2.5]

var levG = [
  [1.02,1.06,2.2,2.45,2.6,2.7,2.88,2.95,3.02,3.08,3.18,3.25,3.38,3.45,3.98,4.25,4.3,4.35],
  [1.05,1.1,1.63,2.02,2.08,2.38,2.45,2.5,2.55,2.6,2.65,2.72,2.8,2.9,3.02,3.1,3.25,3.35,3.48,3.58,3.65,3.82,3.9,4.2],
  [1.02,1.06,1.1,1.14,1.33,1.72,1.8,2.32,2.38,2.5,2.55,2.6,2.68,2.75,2.9,2.95,3.02,3.08,3.14,3.2,3.28,3.35,3.42,3.5,3.6,3.7,3.8,3.88,3.95,4.0,4.05,4.1,4.18,4.25,4.35,4.45,4.58,4.68],
  [1.02,1.06,1.1,1.25,1.3,1.35,1.4,1.45,1.5,1.62,1.68,2.45,2.5,2.55,2.6,2.65,2.72,2.78,2.84,2.9,2.95,3.02,3.08,3.18,3.25,3.7,3.75,3.8,3.85,3.9,3.95,4.0,4.1,4.2,4.3],
  [1.02,1.05,1.08,1.11,1.14,1.17,1.2,1.23,1.26,1.3,1.34,1.42,1.46,1.5,1.54,1.58,1.66,1.72,1.8,1.85,1.9,1.95,2.0,2.05,2.1,2.15,2.2,2.6,2.65,2.7,2.75,2.8,2.85,2.9,2.95,3.0,3.05,3.1,3.15,3.2,3.4,3.45,3.5,3.55,3.6,3.65,3.75,3.85,3.95,4.05,4.15,4.25,4.4,4.68],
  [1.02,1.05,1.08,1.11,1.14,1.17,1.2,1.23,1.26,1.3,1.34,1.38,1.42,1.46,1.52,1.56,1.6,1.64,1.68,1.72,1.76,1.8,1.84,1.88,1.92,1.96,2.0,2.05,2.1,2.15,2.2,2.25,2.3,2.35,2.4,2.45,2.5,2.55,2.72,2.85,2.95,3.02,3.1,3.25,3.35,3.42,3.55,3.65,3.78,3.85,3.92,4.35,4.95],
  [1.02,1.06,1.1,1.14,1.18,1.22,1.26,1.3,1.34,1.38,1.42,1.46,1.5,1.54,1.58,1.62,1.66,1.72,1.78,1.84,1.9,1.95,2.0,2.06,2.12,2.18,2.25,2.32,2.45,2.52,2.62,2.72,2.85,2.95,3.05,3.15,3.3,3.45,3.68,3.75,4.28,4.4,4.48],
  [1.02,1.05,1.08,1.11,1.14,1.17,1.2,1.23,1.26,1.29,1.32,1.35,1.38,1.41,1.44,1.47,1.5,1.53,1.56,1.6,1.64,1.68,1.72,1.76,1.8,1.85,1.9,1.95,2.0,2.04,2.1,2.16,2.22,2.28,2.35,2.42,2.5,2.58,2.7,2.82,2.95,3.02,3.1,3.18,3.27,3.35],
  [1.02,1.05,1.08,1.11,1.14,1.17,1.2,1.23,1.26,1.29,1.32,1.35,1.38,1.41,1.44,1.47,1.5,1.53,1.56,1.6,1.64,1.68,1.72,1.76,1.8,1.85,1.9,1.95,2.0,2.06,2.12,2.2,2.3,2.42,3.16,3.25,3.33,3.42],
  [1.02,1.06,1.1,1.14,1.18,1.22,1.26,1.3,1.35,1.56,1.6,1.64,1.68,1.72,1.76,1.8,1.85,1.9,2.75,3.1],
  [1.05,1.3,1.38,1.5,1.56,1.63,1.7,1.76,1.95,3.27],
  [1.17,1.34,1.5,1.67,1.95],
  [1.25,1.85,2.07],
  [1.67],
  [2.22]]
var fitG = [1.0,5.2, 1.2,5.9, 1.4,6.45, 1.6,6.6, 1.8,6.5, 2.0,5.95, 2.2,5.05, 2.4,4.3, 2.6,3.85, 2.8,3.6, 3.2,3.45, 3.6,3.15, 4.0,3.0, 4.5,2.98, 5.0,3.0, 5.65,3.0]

var levK = [
  [1.0,1.81,2.15,2.35,2.4,2.45,2.5,2.55,2.6,2.65,2.7,2.75,2.8,2.85,2.9,2.95,3.0,3.05,3.1,3.15,3.2,3.27,3.35,3.4,3.55,3.6,3.65,3.7,3.75,4.03,4.1],
  [1.06,1.44,2.4,2.52,2.57,2.62,2.67,2.72,2.77,2.82,2.87,2.92,2.97,3.02,3.07,3.12,3.17,3.22,3.27,3.32,3.37,3.42,3.47,3.52,3.57,3.62,3.67,3.72,3.77,3.82,3.87,3.92,3.97,4.02,4.07,4.14,4.2,4.25,4.3],
  [1.03,1.2,1.4,2.06,2.11,2.16,2.23,2.35,2.4,2.45,2.5,2.55,2.6,2.65,2.7,2.75,2.8,2.85,2.91,2.98,3.25,3.39,3.54,3.71,3.76,3.81,3.86,3.91,3.96,4.03,4.08,4.64],
  [1.0,1.04,1.08,1.13,1.18,1.25,1.35,1.54,1.6,1.66,1.72,1.76,2.23,2.28,2.33,2.38,2.43,2.48,2.53,2.58,2.63,2.68,2.73,2.78,2.83,2.88,2.93,2.98,3.03,3.08,3.13,3.18,3.23,3.28,3.33,3.38,3.43,3.48,3.53,3.58,3.63,3.68,3.73,3.78,3.83,3.88,3.93,4.32],
  [1.0,1.04,1.08,1.12,1.16,1.2,1.26,1.34,1.4,1.5,1.62,1.69,1.76,2.13,2.18,2.23,2.28,2.33,2.38,2.43,2.48,2.54,2.6,2.66,2.76,2.81,2.86,2.91,2.96,3.01,3.06,3.11,3.16,3.21,3.26,3.34,3.49,3.64,4.2,4.25,4.42,4.8],
  [1.0,1.04,1.08,1.12,1.16,1.2,1.24,1.28,1.32,1.36,1.42,1.48,1.54,1.67,1.72,1.77,1.84,2.0,2.06,2.12,2.18,2.23,2.52,2.57,2.62,2.69,2.81,2.86,3.1,3.37,3.69,4.29,4.93],
  [1.0,1.04,1.08,1.12,1.16,1.2,1.24,1.28,1.32,1.36,1.4,1.44,1.48,1.52,1.56,1.6,1.64,1.68,1.72,1.76,1.8,1.84,1.88,1.92,1.96,2.0,2.05,2.1,2.16,2.22,2.32,2.42,2.54,2.71,2.81,3.03,3.18,3.39,3.78,3.95,4.05,4.27],
  [1.06,1.1,1.14,1.18,1.22,1.26,1.3,1.34,1.38,1.42,1.46,1.5,1.54,1.58,1.62,1.66,1.7,1.74,1.78,1.84,1.89,2.03,2.1,2.18,2.37,2.45,2.74,2.81,2.93,3.1,3.2,3.3,3.52,3.59],
  [1.0,1.04,1.08,1.12,1.16,1.22,1.28,1.34,1.4,1.46,1.52,1.58,1.64,1.69,1.89,1.96,2.08,2.15,2.27,2.47,2.98,3.08,3.18,3.3,3.49],
  [1.0,1.04,1.08,1.12,1.16,1.2,1.24,1.28,1.32,1.36,1.4,1.44,1.48,1.52,1.56,1.6,1.64,1.68,1.72,1.77,1.82,2.15,2.23,2.3,2.67],
  [1.0,1.05,1.1,1.15,1.2,1.33,1.4,1.54,1.6,2.06,2.2,2.63],
  [1.15,1.21,1.45,1.52,1.67,1.75],
  [1.29,1.46],
  [1.11]]
var fitK = [1.0,5.4, 1.2,6.45, 1.45,6.97, 1.7,6.88, 1.9,6.44, 2.13,5.41, 2.37,4.24, 2.62,3.37, 2.86,2.99, 3.25,2.78, 3.64,2.63, 3.98,2.5, 4.32,2.6, 4.61,2.85, 4.95,3.07]

// ---- row 4: # AA substitutions vs log10 expression, x values per count
var levD = [
  [1.09,1.31,4.15,5.05,5.09,5.13,5.18,5.23,5.27,5.32,5.37,5.42,5.46],
  [1.2,3.24,4.26,4.34,4.62,4.68,4.73,4.79,4.84,4.9,4.95,5.01,5.06,5.12,5.17,5.23,5.28,5.34,5.39,5.45,5.49],
  [1.07,1.12,1.17,1.22,1.3,1.38,1.45,1.69,3.55,3.74,3.96,4.02,4.07,4.13,4.18,4.24,4.29,4.35,4.4,4.46,4.51,4.64,4.7,4.75,4.81,4.86,4.92,4.97,5.03,5.08,5.14,5.19,5.25,5.3,5.36,5.41,5.46,5.49],
  [1.15,1.22,1.5,1.64,1.75,1.94,2.05,2.13,2.21,2.87,3.44,3.52,3.69,3.77,3.85,3.93,4.04,4.1,4.15,4.21,4.26,4.32,4.37,4.4,4.51,4.56,4.62,4.67,4.73,4.78,4.84,4.9,4.95,5.16,5.33],
  [1.09,1.13,1.17,1.21,1.26,1.3,1.34,1.39,1.56,1.67,1.91,1.97,2.13,2.19,2.24,2.3,2.35,2.41,2.46,2.51,2.79,3.03,3.08,3.14,3.19,3.25,3.3,3.36,3.42,3.47,3.52,3.58,3.64,3.69,3.91,3.96,4.02,4.07,4.13,4.18,4.24,4.29,4.35,4.4,4.46,4.51,4.57,4.62,4.67,4.73,4.78,4.84,4.9,4.95,5.02,5.14],
  [1.04,1.08,1.12,1.16,1.2,1.26,1.31,1.39,1.5,1.58,1.67,1.75,1.89,2.21,2.3,2.38,2.49,2.54,2.6,2.65,2.71,2.76,2.81,2.87,2.92,2.98,3.04,3.1,3.15,3.2,3.28,3.33,3.38,3.44,3.49,3.55,3.6,3.82,3.87,3.93,3.98,4.04,4.1,4.15,4.2,4.26,4.32,4.37,4.64,5.19],
  [1.07,1.1,1.13,1.16,1.19,1.22,1.25,1.3,1.34,1.38,1.42,1.46,1.5,1.54,1.58,1.62,1.66,1.7,1.74,1.78,1.82,1.86,1.9,1.94,1.98,2.1,2.16,2.22,2.27,2.33,2.38,2.43,2.49,2.54,2.6,2.65,2.76,2.87,3.09,3.2,3.33,3.38,3.44,3.5,3.55,3.6,3.66,3.71,3.8,3.91,4.02,4.13,4.29,4.35,4.4,4.46,4.51],
  [1.07,1.1,1.13,1.16,1.19,1.22,1.25,1.28,1.31,1.34,1.37,1.4,1.43,1.46,1.5,1.54,1.58,1.62,1.66,1.7,1.74,1.78,1.82,1.87,1.91,2.08,2.38,2.46,2.54,2.68,2.76,2.81,2.86,2.9,2.95,3.0,3.05,3.1,3.15,3.2,3.25,3.3,3.36,3.42,3.58,3.66,3.74,3.85,4.04,4.18,4.51,5.0],
  [1.09,1.13,1.17,1.21,1.25,1.3,1.34,1.45,1.53,1.61,1.69,1.78,1.99,2.08,2.19,2.51,2.6,2.7,2.98,3.03,3.08,3.14,3.19,3.25,3.3,3.36,3.42,3.47,3.58,3.66,4.32,4.37],
  [1.09,1.17,1.31,1.45,1.56,1.67,1.78,1.91,2.05,2.16,2.21,2.3,2.35,2.43,2.51,2.58,2.66,2.76,2.84,2.92,3.01,3.09,3.2],
  [1.17,1.23,1.28,1.34,1.39,1.48,1.61,1.83,2.1,2.24,2.35,2.49,2.65,3.33,3.63,3.85],
  [1.11,1.16,1.31,1.37,2.32,2.54,2.98],
  [1.22],
  [2.08]]
var fitD = [1.07,6.29, 1.45,6.35, 1.67,6.52, 1.83,6.23, 2.1,6.15, 2.32,6.15, 2.54,6.58, 2.76,6.64, 2.98,6.52, 3.2,6.29, 3.42,5.71, 3.63,5.41, 3.85,4.98, 4.07,4.54, 4.29,4.19, 4.51,3.8, 4.73,3.22, 4.95,2.49, 5.16,1.76, 5.49,0.88]

var levH = [
  [1.21,1.35,4.11,4.5,4.93,4.98,5.04,5.09,5.15,5.2,5.26,5.31,5.37,5.42,5.46],
  [1.1,1.26,1.32,1.84,3.13,3.18,3.62,3.78,3.84,3.89,3.95,4.01,4.06,4.11,4.22,4.5,4.55,4.69,4.75,4.8,4.86,4.91,4.97,5.02,5.07,5.13,5.18,5.23,5.29,5.34,5.4,5.45],
  [1.04,1.09,1.14,1.2,1.26,1.43,1.59,2.8,3.07,3.59,3.67,3.73,3.78,3.84,3.89,3.95,4.0,4.06,4.11,4.17,4.22,4.33,4.39,4.44,4.5,4.55,4.6,4.66,4.77,4.82,4.88,4.93,4.99,5.04,5.1,5.15,5.21,5.26,5.32],
  [1.04,1.08,1.12,1.17,1.22,1.28,1.54,1.62,1.89,1.94,2.0,2.06,2.12,3.4,3.46,3.52,3.58,3.63,3.7,3.75,3.8,3.86,3.92,3.97,4.03,4.08,4.14,4.19,4.25,4.3,4.36,4.41,4.47,4.5,4.66,4.71,4.77,4.83,4.88,4.94,4.99,5.15,5.23,5.35],
  [1.02,1.05,1.08,1.12,1.16,1.2,1.25,1.3,1.38,1.43,1.48,1.54,1.6,1.65,1.7,1.76,1.81,1.87,1.95,2.0,2.11,2.25,2.3,2.36,2.41,2.47,2.52,2.58,2.63,2.69,2.96,3.13,3.19,3.24,3.3,3.35,3.46,3.52,3.58,3.63,3.7,3.75,3.8,3.86,3.92,3.97,4.03,4.08,4.14,4.19,4.25,4.39,4.44,4.5,4.55,4.61,4.66,4.72,4.77,4.83,4.88,4.94,4.99,5.1,5.26],
  [1.02,1.05,1.08,1.12,1.16,1.2,1.25,1.3,1.35,1.59,1.7,1.75,1.8,1.86,1.92,2.03,2.14,2.19,2.25,2.36,2.69,2.74,2.8,2.85,2.9,2.96,3.02,3.08,3.13,3.19,3.24,3.35,3.41,3.46,3.56,4.06,4.11,4.17,4.22,4.28,4.33,4.39,4.66,4.77,5.26],
  [1.02,1.05,1.08,1.12,1.16,1.2,1.25,1.3,1.35,1.54,1.58,1.63,1.68,1.73,1.78,1.84,1.9,1.98,2.14,2.2,2.3,2.41,2.52,2.69,2.74,2.8,2.85,2.9,2.96,3.02,3.08,3.13,3.19,3.24,3.3,3.35,3.41,3.48,3.56,3.78,3.84,3.89,3.95,4.06,4.17,4.28,4.55,4.77,4.85,4.93,5.13],
  [1.04,1.08,1.12,1.16,1.2,1.25,1.3,1.37,1.42,1.48,1.54,1.6,1.67,1.81,1.86,1.92,1.97,2.02,2.08,2.14,2.19,2.25,2.3,2.36,2.47,2.52,2.58,2.63,2.69,2.75,2.8,2.96,3.02,3.08,3.13,3.24,3.3,3.35,3.7,3.81,3.89,4.33],
  [1.02,1.05,1.08,1.12,1.16,1.2,1.25,1.3,1.43,1.47,1.51,1.56,1.6,1.64,1.68,1.73,1.77,1.82,1.87,1.92,2.03,2.08,2.14,2.19,2.25,2.3,2.33,2.44,2.58,2.69,3.02,3.56,3.62,4.39],
  [1.04,1.08,1.12,1.16,1.2,1.25,1.3,1.45,1.54,1.62,1.7,1.78,1.98,2.03,2.08,2.14,2.19,2.25,2.3,2.41,2.5,2.69,2.77,3.02,3.29,3.48],
  [1.1,1.35,1.7,1.98,2.19,2.32,2.36,2.46,2.55,3.59],
  [1.02,1.22,2.25,2.52,3.15],
  [1.14,1.35,2.3],
  [2.42],
  [2.58]]
var fitH = [1.0,6.0, 1.48,6.0, 1.7,6.22, 1.92,6.32, 2.14,6.63, 2.41,7.0, 2.58,6.95, 2.8,6.47, 3.02,6.0, 3.24,5.6, 3.56,4.9, 3.89,4.26, 4.11,3.9, 4.33,3.6, 4.55,3.1, 4.77,2.95, 4.99,2.62, 5.21,2.05, 5.45,0.73]

var levL = [
  [1.09,3.63,3.69,3.88,4.68,4.93,4.98,5.04,5.09,5.15,5.2,5.26,5.31,5.37,5.42,5.48],
  [1.07,1.43,3.28,3.83,3.91,4.02,4.07,4.13,4.18,4.24,4.29,4.35,4.4,4.46,4.51,4.57,4.79,4.84,4.9,4.95,5.01,5.06,5.12,5.17,5.23,5.28,5.34,5.39,5.45,5.51],
  [1.11,1.28,1.61,1.88,2.75,2.81,3.03,3.13,3.41,3.63,3.72,3.83,3.88,3.94,3.99,4.05,4.1,4.16,4.21,4.27,4.4,4.46,4.51,4.57,4.62,4.68,4.73,4.79,4.84,4.9,4.95,5.01,5.06,5.12,5.17,5.23],
  [1.07,1.15,1.35,1.4,1.46,1.51,2.04,2.09,2.5,2.56,3.03,3.08,3.14,3.19,3.25,3.3,3.41,3.47,3.53,3.58,3.64,3.7,3.75,3.81,3.86,3.92,3.97,4.02,4.18,4.24,4.29,4.35,4.4,4.46,4.51,4.57,4.62,4.68,4.73,4.79,4.84,4.9,4.95,5.0,5.06,5.12,5.26,5.34,5.45],
  [1.03,1.07,1.11,1.16,1.26,1.51,1.71,1.82,1.9,2.48,2.53,2.59,2.7,2.78,2.94,3.03,3.19,3.25,3.3,3.36,3.42,3.47,3.53,3.58,3.64,3.7,3.75,3.8,3.86,3.92,3.97,4.02,4.07,4.13,4.19,4.24,4.29,4.35,4.4,4.6,4.65,4.7,4.76,4.81,4.87,4.95,5.12],
  [1.03,1.07,1.11,1.15,1.2,1.24,1.28,1.32,1.4,1.65,1.73,1.87,1.93,1.99,2.05,2.11,2.17,2.23,2.29,2.35,2.41,2.47,2.53,2.59,2.65,2.71,2.77,2.81,2.97,3.08,3.19,3.36,3.42,3.47,3.53,3.58,3.63,3.8,3.86,3.91,3.96,4.02,4.07,4.13,4.63,5.12],
  [1.03,1.07,1.11,1.15,1.2,1.25,1.3,1.37,1.48,1.6,1.79,1.95,2.01,2.07,2.13,2.19,2.25,2.31,2.37,2.43,2.49,2.55,2.59,2.75,2.81,2.86,2.92,2.97,3.03,3.08,3.14,3.2,3.25,3.31,3.36,3.63,3.8,4.07,4.24,4.4,4.68],
  [1.03,1.07,1.12,1.18,1.26,1.29,1.34,1.39,1.44,1.49,1.54,1.59,1.64,1.69,1.74,1.79,1.84,1.89,1.94,1.99,2.04,2.09,2.14,2.2,2.28,2.34,2.4,2.46,2.52,2.58,2.64,2.7,2.76,2.82,2.88,2.94,3.0,3.06,3.12,3.18,3.24,3.36,3.69,3.8,3.94,4.05,4.74],
  [1.03,1.07,1.11,1.15,1.2,1.24,1.28,1.33,1.38,1.43,1.57,1.65,1.84,1.9,1.96,2.02,2.09,2.26,2.34,2.48,2.59,2.92,2.99,3.05,3.12,3.19,3.26,3.33,3.42,3.53,3.58,4.02,4.24],
  [1.03,1.07,1.11,1.15,1.2,1.24,1.35,1.4,1.48,1.6,1.71,1.82,1.93,2.04,2.1,2.17,2.28,2.39,2.67,2.75,2.83,2.92],
  [1.1,1.46,1.54,1.62,1.76,1.9,2.04,2.1,2.17,2.28,2.59,2.92,3.03,3.52],
  [1.18,1.65,1.73,1.82,2.26,2.42],
  [1.44,2.26],
  [1.29]]
var fitL = [1.02,6.29, 1.32,6.35, 1.6,6.73, 1.93,6.88, 2.26,7.32, 2.48,7.02, 2.81,6.44, 3.03,6.0, 3.36,5.12, 3.58,4.39, 3.8,4.01, 4.13,3.66, 4.35,3.07, 4.46,2.55, 4.68,2.63, 4.9,2.19, 5.12,1.61, 5.34,1.02, 5.51,0.44]

// ---- helpers to turn the arrays above into [x, y] rows
function pairs(flat) {
  var out = []
  for (var i = 0; i < flat.length; i += 2) out.push([flat[i], flat[i + 1]])
  return out
}
function levels(lev) {
  var out = []
  lev.forEach(function (xs, n) { xs.forEach(function (x) { out.push([x, n]) }) })
  return out
}

var INK = '#222'
var RED = '#e0232b'

// layout of the 12 panels (pixel boxes and the pixel positions of two reference values on each axis)
var panels = [
  { i: 0, kind: 'expr', pts: pairs(ptsA), fit: pairs(fitA), box: [99, 387, 72, 235], xr: [106, 351.7], yd: [1, 4], yr: [226.7, 100], yt: ticksA, yl: labA.map(d => [d, String(d)]), stat: ['start', 106, 96, 124] },
  { i: 1, kind: 'expr', pts: pairs(ptsB), fit: pairs(fitB), box: [99, 382, 313, 467], xr: [106, 350], yd: [0, 0.12], yr: [468, 339.3], yt: ticksB, yl: labB, stat: ['end', 380, 338, 367] },
  { i: 2, kind: 'dg', pts: levels(levC), fit: pairs(fitC), box: [99, 382, 543, 703], xd: [1, 4], xr: [110, 345], xt: dgTicksC, yd: [0, 12], yr: [696.7, 560], yt: ticksAA12, yl: labAA.map(d => [d, String(d)]), stat: ['end', 380, 566, 598] },
  { i: 3, kind: 'expr', pts: levels(levD), fit: pairs(fitD), box: [99, 382, 777, 938], xr: [106, 350], yd: [0, 12], yr: [931.7, 795], yt: ticksAA12, yl: labAA.map(d => [d, String(d)]), stat: ['end', 380, 801, 833] },
  { i: 4, kind: 'expr', pts: pairs(ptsE), fit: pairs(fitE), box: [468, 759, 72, 233], xr: [477.3, 720.7], yd: [1, 5], yr: [226.7, 98.3], yt: ticksE, yl: labE.map(d => [d, String(d)]), stat: ['start', 475, 100, 130] },
  { i: 5, kind: 'expr', pts: pairs(ptsF), fit: pairs(fitF), box: [467, 758, 312, 471.5], xr: [477.3, 720.7], yd: [0, 0.15], yr: [466.7, 326.7], yt: ticksF, yl: labF, stat: ['end', 752, 340, 371] },
  { i: 6, kind: 'dg', pts: levels(levG), fit: pairs(fitG), box: [467, 758, 544, 703], xd: [1, 5], xr: [477.3, 710.7], xt: dgTicksG, yd: [0, 12], yr: [696.7, 570], yt: ticksAA14, yl: labAA.map(d => [d, String(d)]), stat: ['end', 750, 566, 600] },
  { i: 7, kind: 'expr', pts: levels(levH), fit: pairs(fitH), box: [468, 758, 778, 937], xr: [477.3, 720.7], yd: [0, 12], yr: [931.7, 805], yt: ticksAA14, yl: labAA.map(d => [d, String(d)]), stat: ['end', 750, 805, 836] },
  { i: 8, kind: 'expr', pts: pairs(ptsI), fit: pairs(fitI), box: [833, 1120, 72, 231], xr: [840.7, 1082.7], yd: [1, 5], yr: [226.7, 76], yt: ticksI, yl: labI.map(d => [d, String(d)]), stat: ['start', 841, 96, 127] },
  { i: 9, kind: 'expr', pts: pairs(ptsJ), fit: pairs(fitJ), box: [833, 1120, 312, 471.5], xr: [840.7, 1082.7], yd: [0, 0.2], yr: [470, 328.3], yt: ticksJ, yl: labJ, stat: ['end', 1117, 340, 370] },
  { i: 10, kind: 'dg', pts: levels(levK), fit: pairs(fitK), box: [833, 1120, 543, 703], xd: [1, 5], xr: [842.7, 1116.7], xt: dgTicksK, yd: [0, 12], yr: [696.7, 560], yt: ticksAA12, yl: labAA.map(d => [d, String(d)]), stat: ['end', 1117, 566, 598] },
  { i: 11, kind: 'expr', pts: levels(levL), fit: pairs(fitL), box: [833, 1120, 778, 937], xr: [840.7, 1082.7], yd: [0, 12], yr: [931.7, 795], yt: ticksAA12, yl: labAA.map(d => [d, String(d)]), stat: ['end', 1115, 801, 833] }
]
var rowTickY = [258, 488, 725, 962]
var rowTitleY = [285, 517, 752, 989]
var letterPos = [[15, 72], [17, 312], [17, 543], [17, 777], [410, 65], [412, 312], [408, 545], [408, 778], [777, 63], [775, 312], [775, 543], [775, 778]]

var svg = d3.select('#chart').append('svg').attr('width', 1123).attr('height', 994)

function drawPanel(p) {
  var row = p.i % 4
  var g = svg.append('g')
  var b = p.box
  var x, xv
  if (p.kind === 'expr') {
    x = d3.scaleLog().domain([10, 1e5]).range(p.xr)
    xv = d => Math.pow(10, d)
  } else {
    x = d3.scaleLinear().domain(p.xd).range(p.xr)
    xv = d => d
  }
  var y = d3.scaleLinear().domain(p.yd).range(p.yr)

  g.append('g').selectAll('circle')
    .data(p.pts)
    .join('circle')
    .attr('cx', d => x(xv(d[0])))
    .attr('cy', d => y(d[1]))
    .attr('r', 2.3)
    .attr('fill', '#000')

  g.append('path')
    .datum(p.fit)
    .attr('d', d3.line().x(d => x(xv(d[0]))).y(d => y(d[1])).curve(d3.curveMonotoneX))
    .attr('fill', 'none')
    .attr('stroke', RED)
    .attr('stroke-width', 2.6)

  g.append('rect')
    .attr('x', b[0]).attr('y', b[2])
    .attr('width', b[1] - b[0]).attr('height', b[3] - b[2])
    .attr('fill', 'none').attr('stroke', '#333').attr('stroke-width', 1.4)

  // x axis, a few px below the box, line spanning first..last tick
  var xTickVals = p.kind === 'expr' ? exprTicks.map(t => Math.pow(10, t)) : p.xt
  var xs = x.copy().domain([xTickVals[0], xTickVals[xTickVals.length - 1]])
    .range([x(xTickVals[0]), x(xTickVals[xTickVals.length - 1])])
  var xAxis = g.append('g')
    .attr('transform', 'translate(0,' + (b[3] + 4) + ')')
    .call(d3.axisBottom(xs).tickValues(xTickVals).tickSize(5).tickSizeOuter(0).tickFormat(''))
  xAxis.selectAll('path, line').attr('stroke', '#333').attr('stroke-width', 1.2)

  xTickVals.forEach(function (t, k) {
    var tx = g.append('text')
      .attr('x', x(t)).attr('y', rowTickY[row])
      .attr('text-anchor', 'middle')
      .attr('font-size', 20).attr('fill', INK)
    if (p.kind === 'expr') {
      tx.text('10')
      if (k > 0) tx.append('tspan').attr('dy', -9).attr('font-size', 14).text(exprTicks[k])
    } else {
      tx.text(t)
    }
  })

  // y axis
  var yt = p.yt
  var ys = y.copy().domain([yt[0], yt[yt.length - 1]]).range([y(yt[0]), y(yt[yt.length - 1])])
  var yAxis = g.append('g')
    .attr('transform', 'translate(' + (b[0] - 4) + ',0)')
    .call(d3.axisLeft(ys).tickValues(yt).tickSize(5).tickSizeOuter(0).tickFormat(''))
  yAxis.selectAll('path, line').attr('stroke', '#333').attr('stroke-width', 1.2)
  g.selectAll('text.ylab' + p.i)
    .data(p.yl)
    .join('text')
    .attr('x', b[0] - 11)
    .attr('y', d => y(d[0]))
    .attr('dy', '0.36em')
    .attr('text-anchor', 'end')
    .attr('font-size', 20)
    .attr('fill', INK)
    .text(d => d[1])

  // x title
  var xt = g.append('text')
    .attr('x', (b[0] + b[1]) / 2 + 2).attr('y', rowTitleY[row])
    .attr('text-anchor', 'middle').attr('font-size', 25).attr('fill', INK)
  if (p.kind === 'expr') {
    xt.text('Expression Level')
  } else {
    xt.append('tspan').attr('font-style', 'italic').text('ΔG')
    xt.append('tspan').text(' (kcal/mol)')
  }

  // stats
  var s = p.stat
  g.append('text')
    .attr('x', s[1]).attr('y', s[2])
    .attr('text-anchor', s[0]).attr('font-size', 21).attr('fill', INK)
    .text('ρ=' + rhoVals[p.i])
  var pt = g.append('text')
    .attr('x', s[1]).attr('y', s[3])
    .attr('text-anchor', s[0]).attr('font-size', 21).attr('fill', INK)
  pt.append('tspan').attr('font-style', 'italic').text('P')
  pt.append('tspan').text('<10')
  pt.append('tspan').attr('dy', -9).attr('font-size', 14).text(pExps[p.i])

  // panel letter
  svg.append('text')
    .attr('x', letterPos[p.i][0]).attr('y', letterPos[p.i][1])
    .attr('font-size', 26).attr('font-weight', 'bold').attr('fill', '#111')
    .text(letters[p.i])
}

panels.forEach(drawPanel)

// column titles
var colCenters = [243, 613, 979]
colTitles.forEach(function (lines, c) {
  lines.forEach(function (line, k) {
    svg.append('text')
      .attr('x', colCenters[c]).attr('y', k === 0 ? 30 : 64)
      .attr('text-anchor', 'middle')
      .attr('font-size', 30).attr('font-weight', 'bold').attr('fill', '#111')
      .text(line)
  })
})

// y titles, first column only
var t1 = svg.append('text')
  .attr('transform', 'translate(59,153) rotate(-90)')
  .attr('text-anchor', 'middle').attr('font-size', 25).attr('fill', INK)
t1.append('tspan').attr('font-style', 'italic').text('ΔG')
t1.append('tspan').text(' (kcal/mol)')

var t2 = svg.append('text')
  .attr('transform', 'translate(31,392) rotate(-90)')
  .attr('text-anchor', 'middle').attr('font-size', 28).attr('fill', INK)
t2.append('tspan').attr('font-style', 'italic').text('P')
t2.append('tspan').attr('dy', 6).attr('font-size', 18).text('misfold')

;[623, 858].forEach(function (cy) {
  svg.append('text')
    .attr('transform', 'translate(59,' + cy + ') rotate(-90)')
    .attr('text-anchor', 'middle').attr('font-size', 25).attr('fill', INK)
    .text('# AA substitutions')
})
</script>
</body>
</html>
